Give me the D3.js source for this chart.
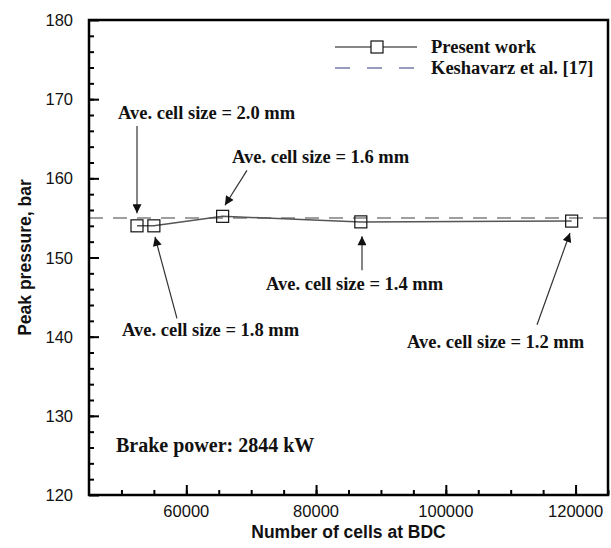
<!DOCTYPE html>
<html>
<head>
<meta charset="utf-8">
<script src="https://cdn.jsdelivr.net/npm/d3@7"></script>
<style>
  body { margin: 0; background: #fff; }
  svg { display: block; }
</style>
</head>
<body>
<svg id="chart" width="611" height="548"></svg>
<script>
// values
const cells = [52400, 55000, 65600, 86900, 119400]
const peakPressure = [154.0, 154.0, 155.2, 154.5, 154.6]
const keshavarz = 155.0

const xTicks = [60000, 80000, 100000, 120000]
const yTicks = [120, 130, 140, 150, 160, 170, 180]

// annotation labels: text anchor (data units) and arrow from/to (data units)
const noteLabels = ['Ave. cell size = 2.0 mm', 'Ave. cell size = 1.6 mm', 'Ave. cell size = 1.4 mm', 'Ave. cell size = 1.8 mm', 'Ave. cell size = 1.2 mm']
const noteText = [[49470, 168.2], [67040, 162.7], [72280, 146.6], [50090, 140.8], [94020, 139.3]]
const arrowFrom = [[52400, 166.6], [69350, 161.0], [87080, 148.4], [58560, 142.3], [114060, 141.5]]
const arrowTo = [[52400, 155.6], [65960, 156.6], [87080, 152.7], [55170, 152.6], [119140, 153.1]]

const svg = d3.select('#chart')
const mLeft = 89, mRight = 608, mTop = 20, mBottom = 495

let x = d3.scaleLinear().domain([45000, 125000]).range([mLeft, mRight])
let y = d3.scaleLinear().domain([120, 180]).range([mBottom, mTop])

svg.append('defs')
    .append('marker')
    .attr('id', 'head')
    .attr('markerUnits', 'userSpaceOnUse')
    .attr('viewBox', '0 0 10 10')
    .attr('refX', 10).attr('refY', 5)
    .attr('markerWidth', 10).attr('markerHeight', 9)
    .attr('orient', 'auto')
    .append('path')
    .attr('d', 'M0,0 L10,5 L0,10 Z')
    .attr('fill', '#111')

// reference dashed line
svg.append('line')
    .attr('x1', mLeft).attr('x2', mRight)
    .attr('y1', y(keshavarz)).attr('y2', y(keshavarz))
    .attr('stroke', '#808080')
    .attr('stroke-width', 1.5)
    .attr('stroke-dasharray', '14,10')

// present work line + squares
let pts = cells.map((c, i) => [c, peakPressure[i]])
svg.append('path')
    .datum(pts)
    .attr('fill', 'none')
    .attr('stroke', '#555')
    .attr('stroke-width', 1.5)
    .attr('d', d3.line().x(d => x(d[0])).y(d => y(d[1])))

svg.selectAll('.pt')
    .data(pts)
    .enter()
    .append('rect')
    .attr('class', 'pt')
    .attr('x', d => x(d[0]) - 6)
    .attr('y', d => y(d[1]) - 6)
    .attr('width', 12).attr('height', 12)
    .attr('fill', 'none')
    .attr('stroke', '#111')
    .attr('stroke-width', 1.2)

// axes (ticks inside)
const sans = '"Liberation Sans", Arial, sans-serif'
let xAxis = svg.append('g').attr('transform', `translate(0,${mBottom})`)
xAxis.call(d3.axisTop(x).tickValues(d3.range(50000, 125001, 5000)).tickSize(5).tickFormat(''))
xAxis.append('g').call(d3.axisTop(x).tickValues(xTicks).tickSize(10).tickFormat(''))
xAxis.selectAll('.tick line').attr('stroke', '#000').attr('stroke-width', 2)
xAxis.selectAll('.domain').remove()
svg.selectAll('.xlab')
    .data(xTicks)
    .enter()
    .append('text')
    .attr('x', d => x(d))
    .attr('y', mBottom + 16)
    .attr('text-anchor', 'middle')
    .attr('dominant-baseline', 'central')
    .style('font', '16.5px ' + sans)
    .attr('fill', '#111')
    .text(d => d)

let yAxis = svg.append('g').attr('transform', `translate(${mLeft},0)`)
yAxis.call(d3.axisRight(y).tickValues(d3.range(122, 180, 2)).tickSize(5).tickFormat(''))
yAxis.append('g').call(d3.axisRight(y).tickValues(yTicks).tickSize(10).tickFormat(''))
yAxis.selectAll('.tick line').attr('stroke', '#000').attr('stroke-width', 2)
yAxis.selectAll('.domain').remove()
svg.selectAll('.ylab')
    .data(yTicks)
    .enter()
    .append('text')
    .attr('x', mLeft - 16)
    .attr('y', d => y(d))
    .attr('text-anchor', 'end')
    .attr('dominant-baseline', 'central')
    .style('font', '16.5px ' + sans)
    .attr('fill', '#111')
    .text(d => d)

// frame
svg.append('rect')
    .attr('x', mLeft).attr('y', mTop)
    .attr('width', mRight - mLeft).attr('height', mBottom - mTop)
    .attr('fill', 'none')
    .attr('stroke', '#000')
    .attr('stroke-width', 2.5)

// axis titles
svg.append('text')
    .attr('x', (mLeft + mRight) / 2)
    .attr('y', 532)
    .attr('text-anchor', 'middle')
    .attr('dominant-baseline', 'central')
    .style('font', 'bold 17.5px ' + sans)
    .attr('fill', '#111')
    .text('Number of cells at BDC')

svg.append('text')
    .attr('transform', `translate(25,${(mTop + mBottom) / 2}) rotate(-90)`)
    .attr('text-anchor', 'middle')
    .attr('dominant-baseline', 'central')
    .style('font', 'bold 17.5px ' + sans)
    .attr('fill', '#111')
    .text('Peak pressure, bar')

// annotations
const serif = 'bold 18.5px "Liberation Serif", "Times New Roman", serif'
svg.selectAll('.note')
    .data(noteLabels)
    .enter()
    .append('text')
    .attr('class', 'note')
    .attr('x', (d, i) => x(noteText[i][0]))
    .attr('y', (d, i) => y(noteText[i][1]))
    .attr('dominant-baseline', 'central')
    .style('font', serif)
    .attr('fill', '#111')
    .text(d => d)

svg.selectAll('.arrow')
    .data(arrowFrom)
    .enter()
    .append('line')
    .attr('class', 'arrow')
    .attr('x1', d => x(d[0])).attr('y1', d => y(d[1]))
    .attr('x2', (d, i) => x(arrowTo[i][0])).attr('y2', (d, i) => y(arrowTo[i][1]))
    .attr('stroke', '#333')
    .attr('stroke-width', 1.2)
    .attr('marker-end', 'url(#head)')

svg.append('text')
    .attr('x', x(49160))
    .attr('y', y(126.3))
    .attr('dominant-baseline', 'central')
    .style('font', 'bold 20px "Liberation Serif", "Times New Roman", serif')
    .attr('fill', '#111')
    .text('Brake power: 2844 kW')

// legend
let legend = svg.append('g')
legend.append('line')
    .attr('x1', 335).attr('x2', 417).attr('y1', 47).attr('y2', 47)
    .attr('stroke', '#111').attr('stroke-width', 1.2)
legend.append('rect')
    .attr('x', 371).attr('y', 41).attr('width', 12).attr('height', 12)
    .attr('fill', '#fff').attr('stroke', '#111').attr('stroke-width', 1.2)
legend.append('line')
    .attr('x1', 335).attr('x2', 417).attr('y1', 68).attr('y2', 68)
    .attr('stroke', '#7a78aa').attr('stroke-width', 1.5)
    .attr('stroke-dasharray', '15,17')
legend.selectAll('text')
    .data(['Present work', 'Keshavarz et al. [17]'])
    .enter()
    .append('text')
    .attr('x', 431)
    .attr('y', (d, i) => 47 + i * 21)
    .attr('dominant-baseline', 'central')
    .style('font', serif)
    .attr('fill', '#111')
    .text(d => d)
</script>
</body>
</html>
